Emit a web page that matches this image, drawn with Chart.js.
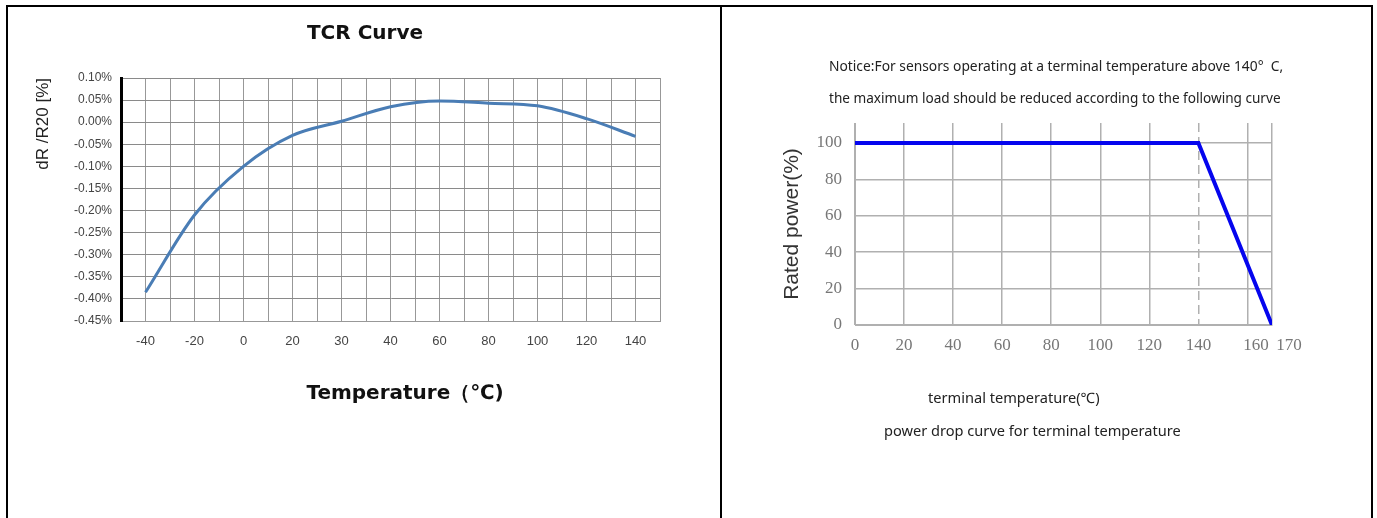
<!DOCTYPE html>
<html>
<head>
<meta charset="utf-8">
<script src="https://cdn.jsdelivr.net/npm/chart.js@4.4.1/dist/chart.umd.min.js"></script>
<style>
  body { margin: 0; background: #fff; width: 1377px; height: 518px; overflow: hidden; position: relative; }
  #frame { position: absolute; left: 6px; top: 5px; width: 1363px; height: 540px; border: 2px solid #000; border-bottom: none; }
  #divider { position: absolute; left: 720px; top: 5px; width: 2px; height: 520px; background: #000; }
  canvas { position: absolute; }
  .txt { position: absolute; white-space: nowrap; transform: translateY(-50%); color: #222; }
</style>
</head>
<body>
<div id="frame"></div>
<div id="divider"></div>
<canvas id="tcr-chart" width="712" height="511" style="left:8px;top:7px"></canvas>
<canvas id="derate-chart" width="649" height="511" style="left:722px;top:7px"></canvas>

<div class="txt" style="left:365px;top:32px;transform:translate(-50%,-50%);font:bold 20px 'DejaVu Sans';color:#111">TCR Curve</div>
<div class="txt" style="left:405px;top:392px;transform:translate(-50%,-50%);font:bold 20px 'DejaVu Sans';color:#111">Temperature（℃)</div>

<div class="txt" style="left:829px;top:65px;font:13.8px 'Noto Sans'">Notice:For sensors operating at a terminal temperature above 140°&nbsp;&nbsp;C,</div>
<div class="txt" style="left:829px;top:97px;font:13.6px 'Noto Sans'">the maximum load should be reduced according to the following curve</div>
<div class="txt" style="left:928px;top:397px;font:14.6px 'Noto Sans'">terminal temperature(℃)</div>
<div class="txt" style="left:884px;top:430px;font:14.6px 'Noto Sans'">power drop curve for terminal temperature</div>

<script>
// TCR curve (left)
const tempLabels = ['-40', '-20', '0', '20', '30', '40', '60', '80', '100', '120', '140'];
const tcrValues = [-0.385, -0.21, -0.10, -0.03, 0.002, 0.035, 0.048, 0.043, 0.037, 0.008, -0.032];
const tcrTicks = [0.10, 0.05, 0.00, -0.05, -0.10, -0.15, -0.20, -0.25, -0.30, -0.35, -0.40, -0.45];

// power derating (right)
const derateTemps = [0, 140, 170];
const deratePower = [100, 100, 0];
const derateXTicks = [0, 20, 40, 60, 80, 100, 120, 140, 160, 170];
const derateYTicks = [0, 20, 40, 60, 80, 100];

// grid at every category and halfway between them
let tcrGrid = [];
for (let i = 0; i <= tempLabels.length; i++) {
    tcrGrid.push(i - 0.5);
    if (i < tempLabels.length) tcrGrid.push(i);
}

new Chart(document.getElementById('tcr-chart'), {
    type: 'line',
    data: {
        datasets: [{
            data: tcrValues.map((v, i) => ({ x: i, y: v })),
            borderColor: '#4a7db5',
            borderWidth: 3,
            pointRadius: 0,
            cubicInterpolationMode: 'monotone'
        }]
    },
    options: {
        responsive: false,
        animation: false,
        layout: { padding: { left: 21, right: 60, top: 71, bottom: 167 } },
        scales: {
            x: {
                type: 'linear',
                min: -0.5,
                max: tempLabels.length - 0.5,
                afterBuildTicks: (s) => { s.ticks = tcrGrid.map(v => ({ value: v })); },
                afterFit: (s) => { s.height = 30; },
                grid: { color: '#989898', drawTicks: false },
                border: { color: '#989898' },
                ticks: {
                    autoSkip: false,
                    maxRotation: 0,
                    padding: 13,
                    color: '#444',
                    font: { family: 'Liberation Sans', size: 13 },
                    callback: (v) => Number.isInteger(v) ? tempLabels[v] : ''
                }
            },
            y: {
                min: -0.45,
                max: 0.10,
                afterBuildTicks: (s) => { s.ticks = tcrTicks.map(v => ({ value: v })); },
                afterFit: (s) => { s.width = 92; },
                grid: { color: '#8a8a8a', drawTicks: false },
                border: { color: '#000', width: 3 },
                ticks: {
                    padding: 9,
                    color: '#444',
                    font: { family: 'Liberation Sans', size: 12 },
                    callback: (v) => (Math.abs(v) < 1e-9 ? 0 : v).toFixed(2) + '%'
                },
                title: {
                    display: true,
                    text: 'dR /R20 [%]',
                    align: 'end',
                    color: '#222',
                    font: { family: 'Liberation Sans', size: 17 }
                }
            }
        },
        plugins: {
            legend: { display: false },
            tooltip: { enabled: false }
        }
    }
});

new Chart(document.getElementById('derate-chart'), {
    type: 'line',
    data: {
        datasets: [{
            data: derateTemps.map((t, i) => ({ x: t, y: deratePower[i] })),
            borderColor: '#0505ee',
            borderWidth: 4,
            pointRadius: 0,
            tension: 0
        }]
    },
    options: {
        responsive: false,
        animation: false,
        layout: { padding: { left: 54, right: 99, top: 116, bottom: 153 } },
        scales: {
            x: {
                type: 'linear',
                min: 0,
                max: 170,
                afterBuildTicks: (s) => { s.ticks = derateXTicks.map(v => ({ value: v })); },
                afterFit: (s) => { s.height = 40; },
                grid: { color: '#b0b0b0', lineWidth: 1.5, drawTicks: false },
                border: {
                    color: '#b0b0b0',
                    dash: (c) => (c.tick && c.tick.value === 140) ? [9, 5] : []
                },
                ticks: {
                    autoSkip: false,
                    maxRotation: 0,
                    padding: 10,
                    color: '#777',
                    font: { family: 'Liberation Serif', size: 17 },
                    // the last two labels sit a little right of their lines
                    callback: (v) => v === 160 ? '\u2002\u2002' + v : v === 170 ? '\u2002\u2002\u2002\u2002' + v : '' + v
                }
            },
            y: {
                min: 0,
                max: 111,
                afterBuildTicks: (s) => { s.ticks = derateYTicks.map(v => ({ value: v })); },
                afterFit: (s) => { s.width = 79; },
                grid: { color: '#b0b0b0', lineWidth: 1.5, drawTicks: false },
                border: { color: '#b0b0b0' },
                ticks: {
                    padding: 13,
                    color: '#777',
                    font: { family: 'Liberation Serif', size: 17 }
                },
                title: {
                    display: true,
                    text: 'Rated power(%)',
                    color: '#333',
                    font: { family: 'Liberation Sans', size: 21 }
                }
            }
        },
        plugins: {
            legend: { display: false },
            tooltip: { enabled: false }
        }
    }
});
</script>
</body>
</html>
